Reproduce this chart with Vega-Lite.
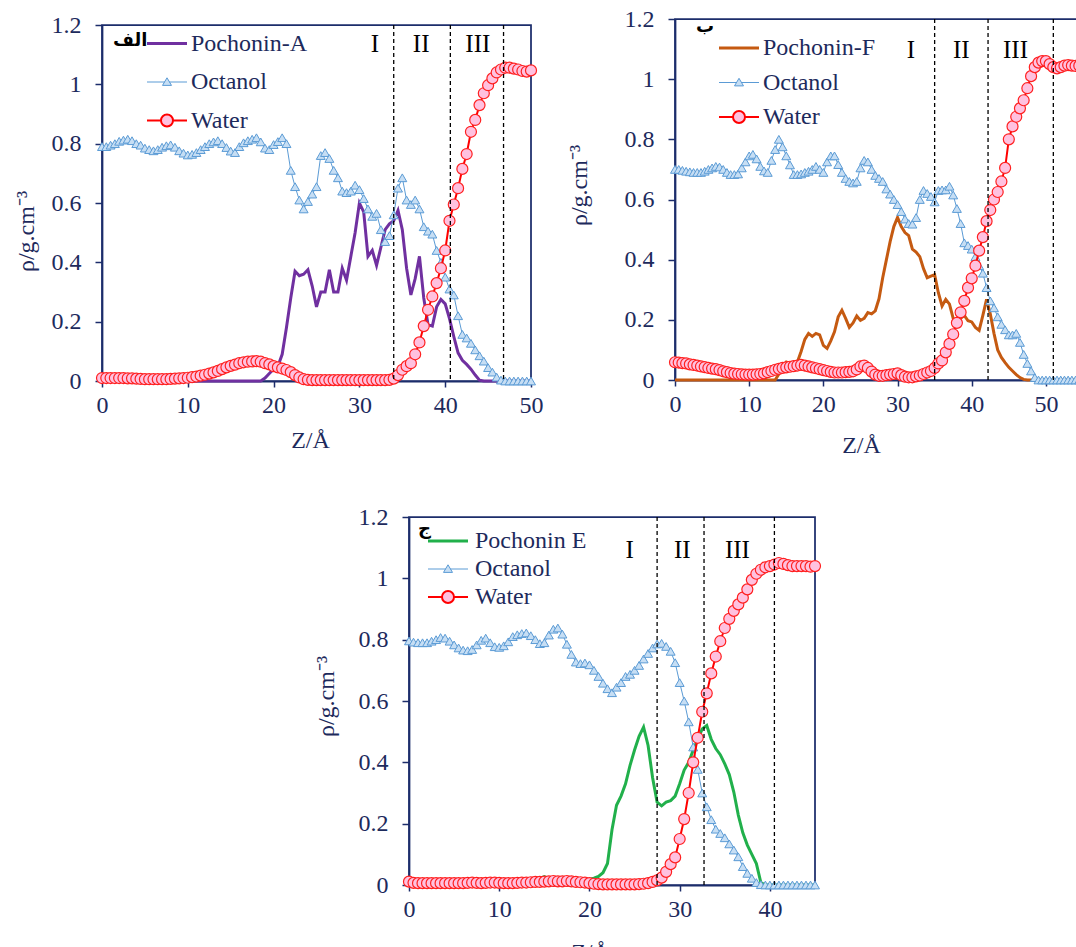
{
"$schema": "https://vega.github.io/schema/vega-lite/v6.json",
"autosize": {"type": "none"},
"padding": {"left": 102, "top": 19, "right": 974, "bottom": 928},
"background": "white",
"datasets": {
"A": [
{"z":0,"Pochonin-A":0,"o":0.79,"w":0.01},{"z":0.5,"Pochonin-A":0,"o":0.79,"w":0.01},{"z":1,"Pochonin-A":0,"o":0.795,"w":0.01},{"z":1.5,"Pochonin-A":0,"o":0.8,"w":0.01},{"z":2,"Pochonin-A":0,"o":0.808,"w":0.01},{"z":2.5,"Pochonin-A":0,"o":0.812,"w":0.01},{"z":3,"Pochonin-A":0,"o":0.815,"w":0.009},{"z":3.5,"Pochonin-A":0,"o":0.81,"w":0.009},{"z":4,"Pochonin-A":0,"o":0.8,"w":0.008},{"z":4.5,"Pochonin-A":0,"o":0.795,"w":0.007},{"z":5,"Pochonin-A":0,"o":0.785,"w":0.006},{"z":5.5,"Pochonin-A":0,"o":0.78,"w":0.006},{"z":6,"Pochonin-A":0,"o":0.776,"w":0.006},{"z":6.5,"Pochonin-A":0,"o":0.78,"w":0.006},{"z":7,"Pochonin-A":0,"o":0.788,"w":0.006},{"z":7.5,"Pochonin-A":0,"o":0.793,"w":0.006},{"z":8,"Pochonin-A":0,"o":0.796,"w":0.007},{"z":8.5,"Pochonin-A":0,"o":0.788,"w":0.008},{"z":9,"Pochonin-A":0,"o":0.776,"w":0.009},{"z":9.5,"Pochonin-A":0,"o":0.768,"w":0.01},{"z":10,"Pochonin-A":0,"o":0.762,"w":0.011},{"z":10.5,"Pochonin-A":0,"o":0.764,"w":0.013},{"z":11,"Pochonin-A":0,"o":0.77,"w":0.015},{"z":11.5,"Pochonin-A":0,"o":0.78,"w":0.018},{"z":12,"Pochonin-A":0,"o":0.79,"w":0.021},{"z":12.5,"Pochonin-A":0,"o":0.8,"w":0.025},{"z":13,"Pochonin-A":0,"o":0.806,"w":0.029},{"z":13.5,"Pochonin-A":0,"o":0.81,"w":0.034},{"z":14,"Pochonin-A":0,"o":0.8,"w":0.04},{"z":14.5,"Pochonin-A":0,"o":0.787,"w":0.046},{"z":15,"Pochonin-A":0,"o":0.775,"w":0.051},{"z":15.5,"Pochonin-A":0,"o":0.77,"w":0.055},{"z":16,"Pochonin-A":0,"o":0.79,"w":0.06},{"z":16.5,"Pochonin-A":0,"o":0.803,"w":0.063},{"z":17,"Pochonin-A":0,"o":0.81,"w":0.065},{"z":17.5,"Pochonin-A":0,"o":0.815,"w":0.066},{"z":18,"Pochonin-A":0,"o":0.82,"w":0.067},{"z":18.5,"Pochonin-A":0,"o":0.806,"w":0.065},{"z":19,"Pochonin-A":0.01,"o":0.785,"w":0.06},{"z":19.5,"Pochonin-A":0.025,"o":0.78,"w":0.056},{"z":20,"Pochonin-A":0.04,"o":0.797,"w":0.05},{"z":20.5,"Pochonin-A":0.05,"o":0.807,"w":0.046},{"z":21,"Pochonin-A":0.09,"o":0.82,"w":0.042},{"z":21.5,"Pochonin-A":0.18,"o":0.8,"w":0.037},{"z":22,"Pochonin-A":0.28,"o":0.71,"w":0.03},{"z":22.5,"Pochonin-A":0.37,"o":0.655,"w":0.02},{"z":23,"Pochonin-A":0.355,"o":0.61,"w":0.012},{"z":23.5,"Pochonin-A":0.36,"o":0.58,"w":0.006},{"z":24,"Pochonin-A":0.375,"o":0.605,"w":0.004},{"z":24.5,"Pochonin-A":0.32,"o":0.63,"w":0.003},{"z":25,"Pochonin-A":0.25,"o":0.655,"w":0.003},{"z":25.5,"Pochonin-A":0.3,"o":0.76,"w":0.003},{"z":26,"Pochonin-A":0.3,"o":0.77,"w":0.003},{"z":26.5,"Pochonin-A":0.375,"o":0.75,"w":0.003},{"z":27,"Pochonin-A":0.3,"o":0.71,"w":0.003},{"z":27.5,"Pochonin-A":0.3,"o":0.685,"w":0.003},{"z":28,"Pochonin-A":0.38,"o":0.64,"w":0.003},{"z":28.5,"Pochonin-A":0.34,"o":0.635,"w":0.003},{"z":29,"Pochonin-A":0.42,"o":0.64,"w":0.003},{"z":29.5,"Pochonin-A":0.5,"o":0.66,"w":0.003},{"z":30,"Pochonin-A":0.6,"o":0.645,"w":0.003},{"z":30.5,"Pochonin-A":0.57,"o":0.615,"w":0.003},{"z":31,"Pochonin-A":0.42,"o":0.58,"w":0.003},{"z":31.5,"Pochonin-A":0.44,"o":0.555,"w":0.003},{"z":32,"Pochonin-A":0.39,"o":0.565,"w":0.003},{"z":32.5,"Pochonin-A":0.45,"o":0.51,"w":0.003},{"z":33,"Pochonin-A":0.51,"o":0.47,"w":0.003},{"z":33.5,"Pochonin-A":0.53,"o":0.49,"w":0.004},{"z":34,"Pochonin-A":0.54,"o":0.56,"w":0.008},{"z":34.5,"Pochonin-A":0.575,"o":0.65,"w":0.02},{"z":35,"Pochonin-A":0.51,"o":0.685,"w":0.038},{"z":35.5,"Pochonin-A":0.38,"o":0.61,"w":0.05},{"z":36,"Pochonin-A":0.29,"o":0.595,"w":0.06},{"z":36.5,"Pochonin-A":0.345,"o":0.61,"w":0.09},{"z":37,"Pochonin-A":0.42,"o":0.58,"w":0.13},{"z":37.5,"Pochonin-A":0.28,"o":0.52,"w":0.185},{"z":38,"Pochonin-A":0.19,"o":0.505,"w":0.24},{"z":38.5,"Pochonin-A":0.185,"o":0.495,"w":0.285},{"z":39,"Pochonin-A":0.25,"o":0.44,"w":0.33},{"z":39.5,"Pochonin-A":0.275,"o":0.4,"w":0.38},{"z":40,"Pochonin-A":0.26,"o":0.35,"w":0.44},{"z":40.5,"Pochonin-A":0.21,"o":0.31,"w":0.54},{"z":41,"Pochonin-A":0.15,"o":0.29,"w":0.595},{"z":41.5,"Pochonin-A":0.095,"o":0.22,"w":0.65},{"z":42,"Pochonin-A":0.07,"o":0.157,"w":0.715},{"z":42.5,"Pochonin-A":0.056,"o":0.145,"w":0.765},{"z":43,"Pochonin-A":0.04,"o":0.127,"w":0.84},{"z":43.5,"Pochonin-A":0.02,"o":0.105,"w":0.88},{"z":44,"Pochonin-A":0.003,"o":0.085,"w":0.93},{"z":44.5,"Pochonin-A":0,"o":0.067,"w":0.97},{"z":45,"Pochonin-A":0,"o":0.045,"w":0.997},{"z":45.5,"Pochonin-A":0,"o":0.03,"w":1.02},{"z":46,"Pochonin-A":0,"o":0.013,"w":1.04},{"z":46.5,"Pochonin-A":0,"o":0.003,"w":1.05},{"z":47,"Pochonin-A":0,"o":0,"w":1.056},{"z":47.5,"Pochonin-A":0,"o":0,"w":1.056},{"z":48,"Pochonin-A":0,"o":0,"w":1.053},{"z":48.5,"Pochonin-A":0,"o":0,"w":1.05},{"z":49,"Pochonin-A":0,"o":0,"w":1.045},{"z":49.5,"Pochonin-A":0,"o":0,"w":1.043},{"z":50,"Pochonin-A":0,"o":0,"w":1.047}
],
"B": [
{"z":0,"Pochonin-F":0,"o":0.7,"w":0.059},{"z":0.5,"Pochonin-F":0,"o":0.7,"w":0.058},{"z":1,"Pochonin-F":0,"o":0.697,"w":0.056},{"z":1.5,"Pochonin-F":0,"o":0.694,"w":0.055},{"z":2,"Pochonin-F":0,"o":0.692,"w":0.052},{"z":2.5,"Pochonin-F":0,"o":0.69,"w":0.05},{"z":3,"Pochonin-F":0,"o":0.69,"w":0.048},{"z":3.5,"Pochonin-F":0,"o":0.69,"w":0.045},{"z":4,"Pochonin-F":0,"o":0.694,"w":0.043},{"z":4.5,"Pochonin-F":0,"o":0.7,"w":0.04},{"z":5,"Pochonin-F":0,"o":0.705,"w":0.038},{"z":5.5,"Pochonin-F":0,"o":0.71,"w":0.036},{"z":6,"Pochonin-F":0,"o":0.708,"w":0.033},{"z":6.5,"Pochonin-F":0,"o":0.7,"w":0.029},{"z":7,"Pochonin-F":0,"o":0.69,"w":0.026},{"z":7.5,"Pochonin-F":0,"o":0.683,"w":0.023},{"z":8,"Pochonin-F":0,"o":0.683,"w":0.021},{"z":8.5,"Pochonin-F":0,"o":0.685,"w":0.02},{"z":9,"Pochonin-F":0,"o":0.705,"w":0.019},{"z":9.5,"Pochonin-F":0,"o":0.725,"w":0.018},{"z":10,"Pochonin-F":0,"o":0.745,"w":0.018},{"z":10.5,"Pochonin-F":0,"o":0.75,"w":0.018},{"z":11,"Pochonin-F":0,"o":0.735,"w":0.019},{"z":11.5,"Pochonin-F":0,"o":0.71,"w":0.02},{"z":12,"Pochonin-F":0,"o":0.695,"w":0.022},{"z":12.5,"Pochonin-F":0,"o":0.69,"w":0.026},{"z":13,"Pochonin-F":0,"o":0.73,"w":0.03},{"z":13.5,"Pochonin-F":0,"o":0.766,"w":0.034},{"z":14,"Pochonin-F":0.02,"o":0.8,"w":0.037},{"z":14.5,"Pochonin-F":0.045,"o":0.775,"w":0.04},{"z":15,"Pochonin-F":0.06,"o":0.745,"w":0.042},{"z":15.5,"Pochonin-F":0.055,"o":0.715,"w":0.044},{"z":16,"Pochonin-F":0.052,"o":0.683,"w":0.046},{"z":16.5,"Pochonin-F":0.06,"o":0.683,"w":0.048},{"z":17,"Pochonin-F":0.095,"o":0.685,"w":0.05},{"z":17.5,"Pochonin-F":0.135,"o":0.69,"w":0.048},{"z":18,"Pochonin-F":0.155,"o":0.694,"w":0.045},{"z":18.5,"Pochonin-F":0.145,"o":0.7,"w":0.042},{"z":19,"Pochonin-F":0.155,"o":0.71,"w":0.039},{"z":19.5,"Pochonin-F":0.15,"o":0.7,"w":0.036},{"z":20,"Pochonin-F":0.115,"o":0.69,"w":0.033},{"z":20.5,"Pochonin-F":0.105,"o":0.725,"w":0.03},{"z":21,"Pochonin-F":0.13,"o":0.745,"w":0.027},{"z":21.5,"Pochonin-F":0.16,"o":0.745,"w":0.025},{"z":22,"Pochonin-F":0.21,"o":0.716,"w":0.025},{"z":22.5,"Pochonin-F":0.232,"o":0.69,"w":0.025},{"z":23,"Pochonin-F":0.205,"o":0.67,"w":0.026},{"z":23.5,"Pochonin-F":0.175,"o":0.66,"w":0.027},{"z":24,"Pochonin-F":0.19,"o":0.655,"w":0.029},{"z":24.5,"Pochonin-F":0.213,"o":0.66,"w":0.035},{"z":25,"Pochonin-F":0.198,"o":0.705,"w":0.045},{"z":25.5,"Pochonin-F":0.205,"o":0.73,"w":0.048},{"z":26,"Pochonin-F":0.224,"o":0.725,"w":0.04},{"z":26.5,"Pochonin-F":0.22,"o":0.7,"w":0.028},{"z":27,"Pochonin-F":0.23,"o":0.68,"w":0.018},{"z":27.5,"Pochonin-F":0.27,"o":0.67,"w":0.014},{"z":28,"Pochonin-F":0.34,"o":0.66,"w":0.014},{"z":28.5,"Pochonin-F":0.4,"o":0.635,"w":0.016},{"z":29,"Pochonin-F":0.46,"o":0.618,"w":0.018},{"z":29.5,"Pochonin-F":0.51,"o":0.6,"w":0.02},{"z":30,"Pochonin-F":0.54,"o":0.583,"w":0.022},{"z":30.5,"Pochonin-F":0.51,"o":0.56,"w":0.016},{"z":31,"Pochonin-F":0.49,"o":0.535,"w":0.011},{"z":31.5,"Pochonin-F":0.48,"o":0.52,"w":0.009},{"z":32,"Pochonin-F":0.435,"o":0.518,"w":0.009},{"z":32.5,"Pochonin-F":0.425,"o":0.54,"w":0.012},{"z":33,"Pochonin-F":0.41,"o":0.6,"w":0.015},{"z":33.5,"Pochonin-F":0.37,"o":0.63,"w":0.02},{"z":34,"Pochonin-F":0.34,"o":0.62,"w":0.025},{"z":34.5,"Pochonin-F":0.345,"o":0.61,"w":0.03},{"z":35,"Pochonin-F":0.35,"o":0.592,"w":0.04},{"z":35.5,"Pochonin-F":0.29,"o":0.63,"w":0.055},{"z":36,"Pochonin-F":0.246,"o":0.632,"w":0.065},{"z":36.5,"Pochonin-F":0.268,"o":0.632,"w":0.092},{"z":37,"Pochonin-F":0.252,"o":0.644,"w":0.12},{"z":37.5,"Pochonin-F":0.205,"o":0.615,"w":0.152},{"z":38,"Pochonin-F":0.19,"o":0.57,"w":0.19},{"z":38.5,"Pochonin-F":0.205,"o":0.52,"w":0.225},{"z":39,"Pochonin-F":0.215,"o":0.456,"w":0.263},{"z":39.5,"Pochonin-F":0.197,"o":0.447,"w":0.307},{"z":40,"Pochonin-F":0.193,"o":0.435,"w":0.338},{"z":40.5,"Pochonin-F":0.175,"o":0.41,"w":0.38},{"z":41,"Pochonin-F":0.165,"o":0.38,"w":0.43},{"z":41.5,"Pochonin-F":0.215,"o":0.355,"w":0.475},{"z":42,"Pochonin-F":0.268,"o":0.307,"w":0.528},{"z":42.5,"Pochonin-F":0.22,"o":0.263,"w":0.565},{"z":43,"Pochonin-F":0.155,"o":0.24,"w":0.6},{"z":43.5,"Pochonin-F":0.1,"o":0.21,"w":0.625},{"z":44,"Pochonin-F":0.075,"o":0.185,"w":0.66},{"z":44.5,"Pochonin-F":0.058,"o":0.167,"w":0.705},{"z":45,"Pochonin-F":0.042,"o":0.15,"w":0.8},{"z":45.5,"Pochonin-F":0.03,"o":0.15,"w":0.843},{"z":46,"Pochonin-F":0.018,"o":0.155,"w":0.875},{"z":46.5,"Pochonin-F":0.008,"o":0.125,"w":0.903},{"z":47,"Pochonin-F":0.002,"o":0.085,"w":0.93},{"z":47.5,"Pochonin-F":0,"o":0.055,"w":0.97},{"z":48,"Pochonin-F":0,"o":0.03,"w":1.01},{"z":48.5,"Pochonin-F":0,"o":0.008,"w":1.04},{"z":49,"Pochonin-F":0,"o":0,"w":1.055},{"z":49.5,"Pochonin-F":0,"o":0,"w":1.06},{"z":50,"Pochonin-F":0,"o":0,"w":1.06},{"z":50.5,"Pochonin-F":0,"o":0,"w":1.05},{"z":51,"Pochonin-F":0,"o":0,"w":1.04},{"z":51.5,"Pochonin-F":0,"o":0,"w":1.036},{"z":52,"Pochonin-F":0,"o":0,"w":1.04},{"z":52.5,"Pochonin-F":0,"o":0,"w":1.045},{"z":53,"Pochonin-F":0,"o":0,"w":1.047},{"z":53.5,"Pochonin-F":0,"o":0,"w":1.045},{"z":54,"Pochonin-F":0,"o":0,"w":1.044},{"z":54.5,"Pochonin-F":0,"o":0,"w":1.045},{"z":55,"Pochonin-F":0,"o":0,"w":1.045}
],
"C": [
{"z":0,"Pochonin E":0.005,"o":0.796,"w":0.011},{"z":0.5,"Pochonin E":0.005,"o":0.792,"w":0.007},{"z":1,"Pochonin E":0.005,"o":0.79,"w":0.006},{"z":1.5,"Pochonin E":0.005,"o":0.79,"w":0.006},{"z":2,"Pochonin E":0.005,"o":0.79,"w":0.006},{"z":2.5,"Pochonin E":0.005,"o":0.795,"w":0.006},{"z":3,"Pochonin E":0.005,"o":0.8,"w":0.006},{"z":3.5,"Pochonin E":0.005,"o":0.807,"w":0.006},{"z":4,"Pochonin E":0.005,"o":0.805,"w":0.006},{"z":4.5,"Pochonin E":0.005,"o":0.795,"w":0.006},{"z":5,"Pochonin E":0.005,"o":0.783,"w":0.006},{"z":5.5,"Pochonin E":0.005,"o":0.773,"w":0.006},{"z":6,"Pochonin E":0.005,"o":0.766,"w":0.006},{"z":6.5,"Pochonin E":0.005,"o":0.764,"w":0.007},{"z":7,"Pochonin E":0.005,"o":0.768,"w":0.008},{"z":7.5,"Pochonin E":0.005,"o":0.783,"w":0.007},{"z":8,"Pochonin E":0.005,"o":0.798,"w":0.006},{"z":8.5,"Pochonin E":0.005,"o":0.805,"w":0.007},{"z":9,"Pochonin E":0.005,"o":0.79,"w":0.008},{"z":9.5,"Pochonin E":0.005,"o":0.777,"w":0.008},{"z":10,"Pochonin E":0.005,"o":0.775,"w":0.007},{"z":10.5,"Pochonin E":0.005,"o":0.78,"w":0.006},{"z":11,"Pochonin E":0.005,"o":0.793,"w":0.006},{"z":11.5,"Pochonin E":0.005,"o":0.81,"w":0.006},{"z":12,"Pochonin E":0.005,"o":0.816,"w":0.007},{"z":12.5,"Pochonin E":0.005,"o":0.82,"w":0.008},{"z":13,"Pochonin E":0.005,"o":0.822,"w":0.008},{"z":13.5,"Pochonin E":0.006,"o":0.813,"w":0.009},{"z":14,"Pochonin E":0.012,"o":0.8,"w":0.01},{"z":14.5,"Pochonin E":0.022,"o":0.787,"w":0.01},{"z":15,"Pochonin E":0.027,"o":0.79,"w":0.011},{"z":15.5,"Pochonin E":0.02,"o":0.815,"w":0.012},{"z":16,"Pochonin E":0.013,"o":0.834,"w":0.013},{"z":16.5,"Pochonin E":0.012,"o":0.838,"w":0.012},{"z":17,"Pochonin E":0.012,"o":0.818,"w":0.012},{"z":17.5,"Pochonin E":0.012,"o":0.785,"w":0.013},{"z":18,"Pochonin E":0.012,"o":0.752,"w":0.012},{"z":18.5,"Pochonin E":0.013,"o":0.727,"w":0.01},{"z":19,"Pochonin E":0.015,"o":0.722,"w":0.009},{"z":19.5,"Pochonin E":0.016,"o":0.724,"w":0.008},{"z":20,"Pochonin E":0.018,"o":0.718,"w":0.006},{"z":20.5,"Pochonin E":0.022,"o":0.7,"w":0.004},{"z":21,"Pochonin E":0.028,"o":0.68,"w":0.003},{"z":21.5,"Pochonin E":0.04,"o":0.658,"w":0.002},{"z":22,"Pochonin E":0.07,"o":0.64,"w":0.002},{"z":22.5,"Pochonin E":0.18,"o":0.627,"w":0.002},{"z":23,"Pochonin E":0.26,"o":0.645,"w":0.002},{"z":23.5,"Pochonin E":0.29,"o":0.66,"w":0.002},{"z":24,"Pochonin E":0.33,"o":0.68,"w":0.002},{"z":24.5,"Pochonin E":0.39,"o":0.687,"w":0.002},{"z":25,"Pochonin E":0.44,"o":0.7,"w":0.002},{"z":25.5,"Pochonin E":0.485,"o":0.716,"w":0.003},{"z":26,"Pochonin E":0.515,"o":0.737,"w":0.004},{"z":26.5,"Pochonin E":0.455,"o":0.755,"w":0.006},{"z":27,"Pochonin E":0.35,"o":0.773,"w":0.01},{"z":27.5,"Pochonin E":0.27,"o":0.786,"w":0.015},{"z":28,"Pochonin E":0.258,"o":0.788,"w":0.024},{"z":28.5,"Pochonin E":0.27,"o":0.778,"w":0.043},{"z":29,"Pochonin E":0.275,"o":0.762,"w":0.068},{"z":29.5,"Pochonin E":0.29,"o":0.725,"w":0.09},{"z":30,"Pochonin E":0.33,"o":0.66,"w":0.15},{"z":30.5,"Pochonin E":0.375,"o":0.6,"w":0.215},{"z":31,"Pochonin E":0.4,"o":0.532,"w":0.3},{"z":31.5,"Pochonin E":0.44,"o":0.45,"w":0.4},{"z":32,"Pochonin E":0.475,"o":0.377,"w":0.48},{"z":32.5,"Pochonin E":0.509,"o":0.3,"w":0.565},{"z":33,"Pochonin E":0.52,"o":0.255,"w":0.625},{"z":33.5,"Pochonin E":0.475,"o":0.213,"w":0.69},{"z":34,"Pochonin E":0.445,"o":0.182,"w":0.745},{"z":34.5,"Pochonin E":0.425,"o":0.168,"w":0.795},{"z":35,"Pochonin E":0.395,"o":0.154,"w":0.838},{"z":35.5,"Pochonin E":0.36,"o":0.134,"w":0.868},{"z":36,"Pochonin E":0.303,"o":0.114,"w":0.894},{"z":36.5,"Pochonin E":0.228,"o":0.092,"w":0.915},{"z":37,"Pochonin E":0.17,"o":0.06,"w":0.937},{"z":37.5,"Pochonin E":0.13,"o":0.038,"w":0.964},{"z":38,"Pochonin E":0.1,"o":0.022,"w":0.995},{"z":38.5,"Pochonin E":0.07,"o":0.008,"w":1.015},{"z":39,"Pochonin E":0.008,"o":0.001,"w":1.028},{"z":39.5,"Pochonin E":0,"o":0,"w":1.036},{"z":40,"Pochonin E":0,"o":0,"w":1.04},{"z":40.5,"Pochonin E":0,"o":0,"w":1.045},{"z":41,"Pochonin E":0,"o":0,"w":1.05},{"z":41.5,"Pochonin E":0,"o":0,"w":1.047},{"z":42,"Pochonin E":0,"o":0,"w":1.043},{"z":42.5,"Pochonin E":0,"o":0,"w":1.04},{"z":43,"Pochonin E":0,"o":0,"w":1.04},{"z":43.5,"Pochonin E":0,"o":0,"w":1.04},{"z":44,"Pochonin E":0,"o":0,"w":1.04},{"z":44.5,"Pochonin E":0,"o":0,"w":1.038},{"z":45,"Pochonin E":0,"o":0,"w":1.04}
]
},
"spacing": 498,
"bounds": "flush",
"resolve": {"scale": {"x": "independent", "y": "independent", "stroke": "independent"}, "axis": {"x": "independent", "y": "independent"}, "legend": {"stroke": "independent"}},
"vconcat": [
{
"spacing": 573,
"bounds": "flush",
"resolve": {"scale": {"x": "independent", "y": "independent", "stroke": "independent"}, "axis": {"x": "independent", "y": "independent"}, "legend": {"stroke": "independent"}},
"hconcat": [
{
"spacing": 0,
"bounds": "flush",
"resolve": {"scale": {"x": "independent", "y": "independent", "stroke": "independent"}, "axis": {"x": "independent", "y": "independent"}, "legend": {"stroke": "independent"}},
"vconcat": [
{"width": 10, "height": 6, "view": {"stroke": null}, "data": {"values": []}, "mark": "point", "encoding": {}},
{
"width": 429, "height": 356,
"layer": [
{"data": {"name": "A"}, "transform": [{"fold": ["Pochonin-A"], "as": ["series", "rho"]}],
 "mark": {"type": "line", "strokeWidth": 3},
 "encoding": {
  "x": {"field": "z", "type": "quantitative", "scale": {"domain": [0, 50], "nice": false, "zero": false},
        "axis": {"title": "Z/Å", "values": [0, 10, 20, 30, 40, 50], "titleX": 208, "titleY": 59, "titleBaseline": "middle"}},
  "y": {"field": "rho", "type": "quantitative", "scale": {"domain": [0, 1.2], "nice": false},
        "axis": {"title": "ρ/g.cm⁻³", "values": [0, 0.1, 0.2, 0.3, 0.4, 0.5, 0.6, 0.7, 0.8, 0.9, 1, 1.1, 1.2], "labelExpr": "round(datum.value * 10) % 2 === 0 ? format(datum.value, '~g') : ''", "titleX": -76, "titleY": 206, "titleBaseline": "middle"}},
  "stroke": {"field": "series", "type": "nominal",
   "scale": {"domain": ["Pochonin-A", "Octanol", "Water"], "range": ["#7030a0", "#5b9bd5", "#ff0000"]},
   "legend": {"title": "الف", "orient": "none", "direction": "vertical", "columns": 1, "legendX": 11, "legendY": 6.5,
     "titleOrient": "left", "titleAnchor": "start", "titleBaseline": "top", "titlePadding": 7,
     "rowPadding": 14.5, "labelOffset": 12,
     "encode": {"symbols": {"update": {
       "shape": {"signal": "datum.value === 'Water' ? 'M-2,0L-0.6,0M0.6,0L2,0M-0.6,0A0.6,0.6,0,1,1,0.6,0A0.6,0.6,0,1,1,-0.6,0Z' : (datum.value === 'Octanol' ? 'M-2,0L-0.22,0M0.22,0L2,0M0,-0.42L0.45,0.34L-0.45,0.34Z' : 'M-2,0L2,0')"},
       "fill": {"signal": "datum.value === 'Water' ? '#ffc1df' : (datum.value === 'Octanol' ? '#c6def4' : 'transparent')"},
       "strokeWidth": {"signal": "(datum.value === 'Octanol' ? 1 : (datum.value === 'Water' ? 2 : 3))"},
       "opacity": {"value": 1}}}}}}
 }},
{"data": {"name": "A"}, "mark": {"type": "line", "strokeWidth": 1, "color": "#5b9bd5"},
 "encoding": {"x": {"field": "z", "type": "quantitative", "scale": {"domain": [0, 50], "nice": false, "zero": false}},
              "y": {"field": "o", "type": "quantitative", "scale": {"domain": [0, 1.2], "nice": false}}}},
{"data": {"name": "A"}, "mark": {"type": "point", "shape": "triangle-up", "filled": true, "fill": "#c6def4", "stroke": "#5b9bd5", "strokeWidth": 1, "size": 80, "opacity": 1},
 "encoding": {"x": {"field": "z", "type": "quantitative", "scale": {"domain": [0, 50], "nice": false, "zero": false}},
              "y": {"field": "o", "type": "quantitative", "scale": {"domain": [0, 1.2], "nice": false}}}},
{"data": {"name": "A"}, "mark": {"type": "line", "strokeWidth": 2, "color": "#ff0000"},
 "encoding": {"x": {"field": "z", "type": "quantitative", "scale": {"domain": [0, 50], "nice": false, "zero": false}},
              "y": {"field": "w", "type": "quantitative", "scale": {"domain": [0, 1.2], "nice": false}}}},
{"data": {"name": "A"}, "mark": {"type": "point", "shape": "circle", "filled": true, "fill": "#ffc1df", "stroke": "#ff2020", "strokeWidth": 1.2, "size": 121, "opacity": 1},
 "encoding": {"x": {"field": "z", "type": "quantitative", "scale": {"domain": [0, 50], "nice": false, "zero": false}},
              "y": {"field": "w", "type": "quantitative", "scale": {"domain": [0, 1.2], "nice": false}}}},
{"data": {"values": [{"z": 34}, {"z": 40.6}, {"z": 46.8}]}, "mark": {"type": "rule", "color": "#000000", "strokeWidth": 1.3, "strokeDash": [4, 3]},
 "encoding": {"x": {"field": "z", "type": "quantitative", "scale": {"domain": [0, 50], "nice": false, "zero": false}}}},
{"data": {"values": [{"t": "I", "z": 31.8, "rho": 1.135}, {"t": "II", "z": 37.2, "rho": 1.135}, {"t": "III", "z": 43.8, "rho": 1.135}]},
 "mark": {"type": "text", "font": "Liberation Serif", "fontSize": 25, "color": "#000000", "align": "center", "baseline": "middle"},
 "encoding": {"x": {"field": "z", "type": "quantitative", "scale": {"domain": [0, 50], "nice": false, "zero": false}},
              "y": {"field": "rho", "type": "quantitative", "scale": {"domain": [0, 1.2], "nice": false}},
              "text": {"field": "t"}}}
]
}
]
},
{
"width": 408, "height": 361,
"layer": [
{"data": {"name": "B"}, "transform": [{"fold": ["Pochonin-F"], "as": ["series", "rho"]}],
 "mark": {"type": "line", "strokeWidth": 3},
 "encoding": {
  "x": {"field": "z", "type": "quantitative", "scale": {"domain": [0, 55], "nice": false, "zero": false},
        "axis": {"title": "Z/Å", "values": [0, 10, 20, 30, 40, 50], "titleX": 186, "titleY": 65, "titleBaseline": "middle"}},
  "y": {"field": "rho", "type": "quantitative", "scale": {"domain": [0, 1.2], "nice": false},
        "axis": {"title": "ρ/g.cm⁻³", "values": [0, 0.1, 0.2, 0.3, 0.4, 0.5, 0.6, 0.7, 0.8, 0.9, 1, 1.1, 1.2], "labelExpr": "round(datum.value * 10) % 2 === 0 ? format(datum.value, '~g') : ''", "titleX": -96, "titleY": 166, "titleBaseline": "middle"}},
  "stroke": {"field": "series", "type": "nominal",
   "scale": {"domain": ["Pochonin-F", "Octanol", "Water"], "range": ["#c55a11", "#5b9bd5", "#ff0000"]},
   "legend": {"title": "ب", "orient": "none", "direction": "vertical", "columns": 1, "legendX": 21, "legendY": 17,
     "titleOrient": "left", "titleAnchor": "start", "titleBaseline": "bottom", "titlePadding": 12,
     "rowPadding": 10.5, "labelOffset": 12,
     "encode": {"symbols": {"update": {
       "shape": {"signal": "datum.value === 'Water' ? 'M-2,0L-0.6,0M0.6,0L2,0M-0.6,0A0.6,0.6,0,1,1,0.6,0A0.6,0.6,0,1,1,-0.6,0Z' : (datum.value === 'Octanol' ? 'M-2,0L-0.22,0M0.22,0L2,0M0,-0.42L0.45,0.34L-0.45,0.34Z' : 'M-2,0L2,0')"},
       "fill": {"signal": "datum.value === 'Water' ? '#ffc1df' : (datum.value === 'Octanol' ? '#c6def4' : 'transparent')"},
       "strokeWidth": {"signal": "(datum.value === 'Octanol' ? 1 : (datum.value === 'Water' ? 2 : 3))"},
       "opacity": {"value": 1}}}}}}
 }},
{"data": {"name": "B"}, "mark": {"type": "line", "strokeWidth": 1, "color": "#5b9bd5"},
 "encoding": {"x": {"field": "z", "type": "quantitative", "scale": {"domain": [0, 55], "nice": false, "zero": false}},
              "y": {"field": "o", "type": "quantitative", "scale": {"domain": [0, 1.2], "nice": false}}}},
{"data": {"name": "B"}, "mark": {"type": "point", "shape": "triangle-up", "filled": true, "fill": "#c6def4", "stroke": "#5b9bd5", "strokeWidth": 1, "size": 80, "opacity": 1},
 "encoding": {"x": {"field": "z", "type": "quantitative", "scale": {"domain": [0, 55], "nice": false, "zero": false}},
              "y": {"field": "o", "type": "quantitative", "scale": {"domain": [0, 1.2], "nice": false}}}},
{"data": {"name": "B"}, "mark": {"type": "line", "strokeWidth": 2, "color": "#ff0000"},
 "encoding": {"x": {"field": "z", "type": "quantitative", "scale": {"domain": [0, 55], "nice": false, "zero": false}},
              "y": {"field": "w", "type": "quantitative", "scale": {"domain": [0, 1.2], "nice": false}}}},
{"data": {"name": "B"}, "mark": {"type": "point", "shape": "circle", "filled": true, "fill": "#ffc1df", "stroke": "#ff2020", "strokeWidth": 1.2, "size": 121, "opacity": 1},
 "encoding": {"x": {"field": "z", "type": "quantitative", "scale": {"domain": [0, 55], "nice": false, "zero": false}},
              "y": {"field": "w", "type": "quantitative", "scale": {"domain": [0, 1.2], "nice": false}}}},
{"data": {"values": [{"z": 35}, {"z": 42.2}, {"z": 51}]}, "mark": {"type": "rule", "color": "#000000", "strokeWidth": 1.3, "strokeDash": [4, 3]},
 "encoding": {"x": {"field": "z", "type": "quantitative", "scale": {"domain": [0, 55], "nice": false, "zero": false}}}},
{"data": {"values": [{"t": "I", "z": 31.8, "rho": 1.097}, {"t": "II", "z": 38.6, "rho": 1.097}, {"t": "III", "z": 45.9, "rho": 1.097}]},
 "mark": {"type": "text", "font": "Liberation Serif", "fontSize": 25, "color": "#000000", "align": "center", "baseline": "middle"},
 "encoding": {"x": {"field": "z", "type": "quantitative", "scale": {"domain": [0, 55], "nice": false, "zero": false}},
              "y": {"field": "rho", "type": "quantitative", "scale": {"domain": [0, 1.2], "nice": false}},
              "text": {"field": "t"}}}
]
}
]
},
{
"spacing": 0,
"bounds": "flush",
"resolve": {"scale": {"x": "independent", "y": "independent", "stroke": "independent"}, "axis": {"x": "independent", "y": "independent"}, "legend": {"stroke": "independent"}},
"hconcat": [
{"width": 307, "height": 10, "view": {"stroke": null}, "data": {"values": []}, "mark": "point", "encoding": {}},
{
"width": 406, "height": 368,
"layer": [
{"data": {"name": "C"}, "transform": [{"fold": ["Pochonin E"], "as": ["series", "rho"]}],
 "mark": {"type": "line", "strokeWidth": 3},
 "encoding": {
  "x": {"field": "z", "type": "quantitative", "scale": {"domain": [0, 45], "nice": false, "zero": false},
        "axis": {"title": "Z/Å", "values": [0, 10, 20, 30, 40], "titleX": 181, "titleY": 67, "titleBaseline": "middle"}},
  "y": {"field": "rho", "type": "quantitative", "scale": {"domain": [0, 1.2], "nice": false},
        "axis": {"title": "ρ/g.cm⁻³", "values": [0, 0.1, 0.2, 0.3, 0.4, 0.5, 0.6, 0.7, 0.8, 0.9, 1, 1.1, 1.2], "labelExpr": "round(datum.value * 10) % 2 === 0 ? format(datum.value, '~g') : ''", "titleX": -83, "titleY": 179, "titleBaseline": "middle"}},
  "stroke": {"field": "series", "type": "nominal",
   "scale": {"domain": ["Pochonin E", "Octanol", "Water"], "range": ["#21b04b", "#5b9bd5", "#ff0000"]},
   "legend": {"title": "ج", "orient": "none", "direction": "vertical", "columns": 1, "legendX": 9, "legendY": 12,
     "titleOrient": "left", "titleAnchor": "start", "titleBaseline": "middle", "titlePadding": 5,
     "rowPadding": 4, "labelOffset": 15,
     "encode": {"symbols": {"update": {
       "shape": {"signal": "datum.value === 'Water' ? 'M-2,0L-0.6,0M0.6,0L2,0M-0.6,0A0.6,0.6,0,1,1,0.6,0A0.6,0.6,0,1,1,-0.6,0Z' : (datum.value === 'Octanol' ? 'M-2,0L-0.22,0M0.22,0L2,0M0,-0.42L0.45,0.34L-0.45,0.34Z' : 'M-2,0L2,0')"},
       "fill": {"signal": "datum.value === 'Water' ? '#ffc1df' : (datum.value === 'Octanol' ? '#c6def4' : 'transparent')"},
       "strokeWidth": {"signal": "(datum.value === 'Octanol' ? 1 : (datum.value === 'Water' ? 2 : 3))"},
       "opacity": {"value": 1}}}}}}
 }},
{"data": {"name": "C"}, "mark": {"type": "line", "strokeWidth": 1, "color": "#5b9bd5"},
 "encoding": {"x": {"field": "z", "type": "quantitative", "scale": {"domain": [0, 45], "nice": false, "zero": false}},
              "y": {"field": "o", "type": "quantitative", "scale": {"domain": [0, 1.2], "nice": false}}}},
{"data": {"name": "C"}, "mark": {"type": "point", "shape": "triangle-up", "filled": true, "fill": "#c6def4", "stroke": "#5b9bd5", "strokeWidth": 1, "size": 80, "opacity": 1},
 "encoding": {"x": {"field": "z", "type": "quantitative", "scale": {"domain": [0, 45], "nice": false, "zero": false}},
              "y": {"field": "o", "type": "quantitative", "scale": {"domain": [0, 1.2], "nice": false}}}},
{"data": {"name": "C"}, "mark": {"type": "line", "strokeWidth": 2, "color": "#ff0000"},
 "encoding": {"x": {"field": "z", "type": "quantitative", "scale": {"domain": [0, 45], "nice": false, "zero": false}},
              "y": {"field": "w", "type": "quantitative", "scale": {"domain": [0, 1.2], "nice": false}}}},
{"data": {"name": "C"}, "mark": {"type": "point", "shape": "circle", "filled": true, "fill": "#ffc1df", "stroke": "#ff2020", "strokeWidth": 1.2, "size": 121, "opacity": 1},
 "encoding": {"x": {"field": "z", "type": "quantitative", "scale": {"domain": [0, 45], "nice": false, "zero": false}},
              "y": {"field": "w", "type": "quantitative", "scale": {"domain": [0, 1.2], "nice": false}}}},
{"data": {"values": [{"z": 27.5}, {"z": 32.7}, {"z": 40.5}]}, "mark": {"type": "rule", "color": "#000000", "strokeWidth": 1.3, "strokeDash": [4, 3]},
 "encoding": {"x": {"field": "z", "type": "quantitative", "scale": {"domain": [0, 45], "nice": false, "zero": false}}}},
{"data": {"values": [{"t": "I", "z": 24.45, "rho": 1.094}, {"t": "II", "z": 30.3, "rho": 1.094}, {"t": "III", "z": 36.4, "rho": 1.094}]},
 "mark": {"type": "text", "font": "Liberation Serif", "fontSize": 25, "color": "#000000", "align": "center", "baseline": "middle"},
 "encoding": {"x": {"field": "z", "type": "quantitative", "scale": {"domain": [0, 45], "nice": false, "zero": false}},
              "y": {"field": "rho", "type": "quantitative", "scale": {"domain": [0, 1.2], "nice": false}},
              "text": {"field": "t"}}}
]
}
]
}
],
"config": {
 "font": "Liberation Serif",
 "view": {"stroke": "#1c2d6b", "strokeWidth": 1.75},
 "axis": {"grid": false, "domainColor": "#1c2d6b", "domainWidth": 1.75, "tickColor": "#1c2d6b", "tickWidth": 1.5, "tickSize": 7,
          "labelColor": "#1d2a5c", "labelFont": "Liberation Serif", "labelFontSize": 24, "labelFlush": false, "labelOverlap": false,
          "titleColor": "#1d2a5c", "titleFont": "Liberation Serif", "titleFontSize": 24, "titleFontWeight": "normal"},
 "axisX": {"labelPadding": 6, "tickSize": 6},
 "axisY": {"labelPadding": 14},
 "legend": {"labelFont": "Liberation Serif", "labelFontSize": 24, "labelColor": "#1d2a5c", "symbolSize": 400, "symbolStrokeWidth": 2,
            "titleFont": "DejaVu Sans", "titleFontSize": 18, "titleFontWeight": "bold", "titleColor": "#000000", "padding": 0, "labelLimit": 300}
}
}
